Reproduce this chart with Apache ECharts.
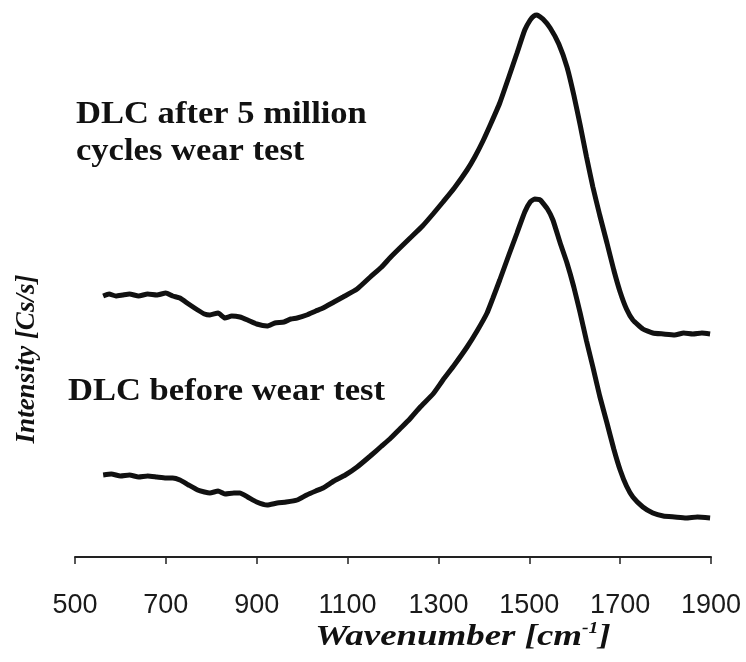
<!DOCTYPE html>
<html>
<head>
<meta charset="utf-8">
<script src="https://cdn.jsdelivr.net/npm/echarts@6/dist/echarts.min.js"></script>
<style>
html,body{margin:0;padding:0;background:#fff;}
#chart{width:746px;height:662px;}
</style>
</head>
<body>
<div id="chart"></div>
<script>
// Wavenumber axis ticks
var xTicks = [500, 700, 900, 1100, 1300, 1500, 1700, 1900];

// Raman spectrum: DLC after 5 million cycles wear test  [wavenumber, intensity]
var afterWear = [
[562,261],[575,263],[590,261],[605,262],[620,263],[640,261],[660,263],[680,262],[700,264],[715,261],
[731,259],[750,253],[770,247],[785,243],[797,242],[815,244],[830,239],[845,241],[863,240],[880,237],
[900,233],[923,231],[940,234],[960,235],[975,238],[989,239],[1010,242],[1030,246],[1046,249],[1070,255],
[1090,260],[1121,268],[1150,280],[1175,290],[1193,299],[1215,309],[1240,320],[1265,331],[1288,343],[1310,355],
[1335,369],[1363,387],[1380,400],[1398,416],[1415,433],[1435,454],[1455,480],[1473,504],[1490,527],[1502,537],
[1510,541],[1517,542],[1530,538],[1546,529],[1565,513],[1583,490],[1598,462],[1612,432],[1626,400],[1640,370],
[1655,342],[1671,314],[1686,287],[1700,265],[1714,248],[1728,237],[1750,228],[1772,224],[1795,223],[1820,222],
[1840,224],[1860,223],[1880,224],[1898,223]
];

// Raman spectrum: DLC before wear test  [wavenumber, intensity]
var beforeWear = [
[562,82],[580,83],[600,81],[620,82],[640,80],[660,81],[680,80],[700,79],[715,79],[731,77],
[750,72],[770,67],[785,65],[797,64],[815,66],[830,63],[850,64],[863,64],[880,60],[900,55],
[923,52],[945,54],[965,55],[989,57],[1010,62],[1030,66],[1046,69],[1070,76],[1095,82],[1121,90],
[1150,101],[1175,111],[1193,118],[1215,128],[1237,138],[1260,150],[1288,163],[1310,177],[1335,192],[1363,210],
[1385,226],[1407,244],[1420,259],[1435,277],[1455,302],[1473,324],[1490,345],[1502,355],[1512,358],[1524,357],
[1540,348],[1552,337],[1568,314],[1583,294],[1598,270],[1612,244],[1626,216],[1640,190],[1655,161],[1671,134],
[1686,108],[1700,87],[1714,71],[1728,60],[1750,50],[1772,44],[1795,41],[1820,40],[1845,39],[1870,40],[1898,39]
];

var labelAfter1 = 'DLC after 5 million';
var labelAfter2 = 'cycles wear test';
var labelBefore = 'DLC before wear test';
var xTitleMain = 'Wavenumber [cm';
var xTitleSup = '-1';
var xTitleEnd = ']';
var yTitle = 'Intensity [Cs/s]';

var serif = "'Liberation Serif','Times New Roman',serif";
var chart = echarts.init(document.getElementById('chart'), null, {renderer:'canvas'});
chart.setOption({
  animation: false,
  backgroundColor: '#ffffff',
  grid: {left: 75, right: 35, top: 7, bottom: 100},
  xAxis: {
    type: 'value', min: 500, max: 1900, interval: 200,
    axisLine: {show: true, lineStyle: {color: '#222', width: 2}},
    axisTick: {show: true, inside: false, length: 7, lineStyle: {color: '#222', width: 1.5}},
    axisLabel: {
      margin: 30, fontSize: 27, color: '#1a1a1a',
      fontFamily: "'Liberation Sans', Arial, sans-serif",
      customValues: xTicks,
      formatter: function(v){ return String(v); }
    },
    splitLine: {show: false}
  },
  yAxis: {
    type: 'value', min: -5, max: 550,
    show: false
  },
  series: [
    {type: 'line', data: afterWear, showSymbol: false, smooth: 0.15,
     lineStyle: {color: '#111', width: 5}},
    {type: 'line', data: beforeWear, showSymbol: false, smooth: 0.15,
     lineStyle: {color: '#111', width: 5}}
  ],
  graphic: [
    {type: 'text', x: 76, y: 115, scaleX: 1.08,
     style: {text: labelAfter1, font: 'bold 32px ' + serif, fill: '#111', textAlign: 'left', textVerticalAlign: 'middle'}},
    {type: 'text', x: 76, y: 152, scaleX: 1.08,
     style: {text: labelAfter2, font: 'bold 32px ' + serif, fill: '#111', textAlign: 'left', textVerticalAlign: 'middle'}},
    {type: 'text', x: 68, y: 392, scaleX: 1.08,
     style: {text: labelBefore, font: 'bold 32px ' + serif, fill: '#111', textAlign: 'left', textVerticalAlign: 'middle'}},
    {type: 'text', x: 463, y: 637, scaleX: 1.23,
     style: {
       text: '{n|' + xTitleMain + '}{s|' + xTitleSup + '}{n|' + xTitleEnd + '}',
       textAlign: 'center', textVerticalAlign: 'middle', fill: '#111',
       rich: {
         n: {fontFamily: serif, fontWeight: 'bold', fontStyle: 'italic', fontSize: 30, fill: '#111', lineHeight: 32},
         s: {fontFamily: serif, fontWeight: 'bold', fontStyle: 'italic', fontSize: 16, fill: '#111', verticalAlign: 'top', lineHeight: 32}
       }
     }},
    {type: 'text', x: 27, y: 359, rotation: Math.PI / 2,
     style: {text: yTitle, font: 'italic bold 27px ' + serif, fill: '#111', textAlign: 'center', textVerticalAlign: 'middle'}}
  ]
});
</script>
</body>
</html>
